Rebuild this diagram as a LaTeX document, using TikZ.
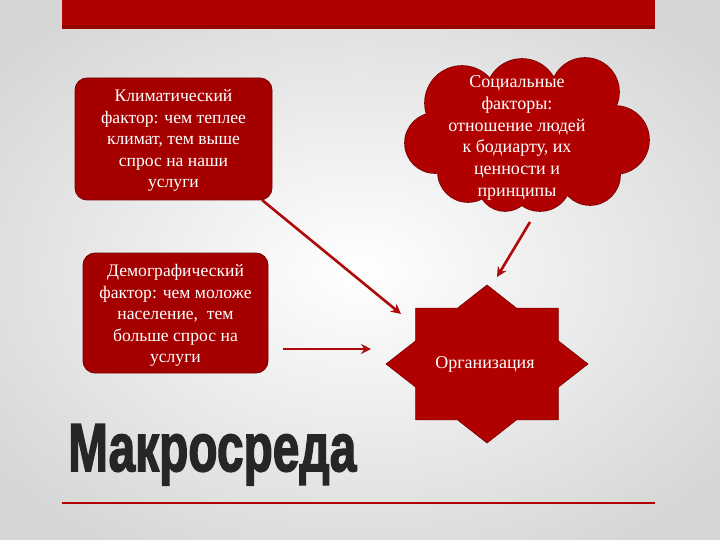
\documentclass[tikz,border=0pt]{standalone}
\usepackage{graphicx}
\usepackage{fontspec}
\setmainfont{Liberation Serif}
\newfontfamily\headfont[BoldFeatures={FakeBold=2.5}]{Liberation Sans}
\usetikzlibrary{arrows.meta}
\definecolor{barred}{RGB}{176,0,0}
\definecolor{bardark}{RGB}{150,0,0}
\definecolor{boxred}{RGB}{165,0,0}
\definecolor{boxedge}{RGB}{120,0,0}
\definecolor{arrred}{RGB}{175,10,10}
\definecolor{headgray}{RGB}{38,38,38}
\begin{document}
\begin{tikzpicture}[x=1pt,y=-1pt,
  fbox/.style={rectangle, rounded corners=12pt, fill=boxred, draw=boxedge, line width=0.8pt},
  txt/.style={text=white, align=center, inner sep=0pt, font=\fontsize{17.6}{21.5}\selectfont},
  arr/.style={draw=arrred, line width=2.6pt, -{Stealth[length=10pt,width=10pt]}}]
\useasboundingbox (0,0) rectangle (720,540);
\shade[inner color=white, outer color=gray!32] (-100,-60) rectangle (820,600);
% top bar
\fill[barred] (62,0) rectangle (655,29);
\fill[bardark] (62,25) rectangle (655,29);
% boxes
\node[fbox, minimum width=197pt, minimum height=122pt] (box1) at (173.5,139) {};
\node[txt] (t1) at (173.5,140.5) {Климатический\\фактор: чем теплее\\климат, тем выше\\спрос на наши\\услуги};
\node[fbox, minimum width=185pt, minimum height=120pt] (box2) at (175.5,313) {};
\node[txt] (t2) at (175.5,315.5) {Демографический\\фактор: чем моложе\\население,\ \ тем\\больше спрос на\\услуги};
% cloud (union of circles)
\def\cloudcircles{462/103/37, 522/95/36, 585/92/34, 615/140/34, 590/175/30, 540/180/31, 505/184/27, 468/172/30, 435/143/30}
\foreach \cx/\cy/\cr in \cloudcircles { \draw[boxedge, line width=1.6pt] (\cx,\cy) circle[radius=\cr]; }
\foreach \cx/\cy/\cr in \cloudcircles { \fill[barred] (\cx,\cy) circle[radius=\cr]; }
\fill[barred] (525,136) ellipse[x radius=85, y radius=50];
\node[txt, font=\fontsize{18}{21.8}\selectfont] (cloud) at (517,138) {Социальные\\факторы:\\отношение людей\\к бодиарту, их\\ценности и\\принципы};
% star
\fill[barred, draw=boxedge, line width=0.6pt] plot[samples at={0,...,15}, variable=\k]
  ({487+(1-0.235*mod(\k,2))*101*cos(90+22.5*\k)}, {364-(1-0.235*mod(\k,2))*79*sin(90+22.5*\k)}) -- cycle;
\node[txt, font=\fontsize{18}{21.8}\selectfont] (org) at (485,364) {Организация};
% arrows
\coordinate (a1s) at (262,200);
\coordinate (a1e) at (401,314);
\coordinate (a2s) at (283,349);
\coordinate (a2e) at (371,349);
\coordinate (a3s) at (530,222);
\coordinate (a3e) at (497,277);
\draw[arr] (a1s) -- (a1e);
\draw[arr] (a2s) -- (a2e);
\draw[arr] (a3s) -- (a3e);
% title
\node[anchor=north west, inner sep=0pt, text=headgray] (title) at (68,424) {\resizebox*{288pt}{61pt}{\headfont\bfseries Макросреда}};
\draw[barred, line width=1.8pt] (62,503) -- (655,503);
\end{tikzpicture}
\end{document}
